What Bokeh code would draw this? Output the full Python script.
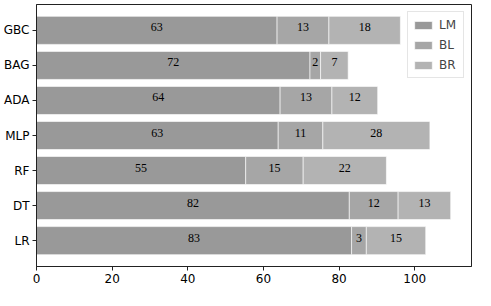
import numpy as np
from bokeh.plotting import figure
from bokeh.models import ColumnDataSource, Range1d, FactorRange, FixedTicker, LabelSet
from bokeh.embed import file_html
from bokeh.resources import INLINE

models = ["LR", "DT", "RF", "MLP", "ADA", "BAG", "GBC"]
lm = [83.3, 82.7, 55.3, 63.9, 64.4, 72.3, 63.6]
bl = [3.9, 12.9, 15.2, 11.8, 13.7, 2.8, 13.7]
br = [15.7, 13.9, 22.0, 28.3, 12.1, 7.3, 18.9]
lm_labels = ["83", "82", "55", "63", "64", "72", "63"]
bl_labels = ["3", "12", "15", "11", "13", "2", "13"]
br_labels = ["15", "13", "22", "28", "12", "7", "18"]
x_ticks = [0, 20, 40, 60, 80, 100]

FONT = "DejaVu Sans"
colors = ["#999999", "#a6a6a6", "#b3b3b3"]

source = ColumnDataSource(dict(model=models, lm=lm, bl=bl, br=br))

p = figure(width=475, height=290, output_backend="svg", toolbar_location=None,
           y_range=FactorRange(factors=models, range_padding=0.068),
           x_range=Range1d(0, 115),
           min_border_left=4, min_border_right=4, min_border_top=4, min_border_bottom=24)

p.hbar_stack(["lm", "bl", "br"], y="model", height=0.8, color=colors,
             line_color="white", line_alpha=0.6, line_width=1,
             source=source, legend_label=["LM", "BL", "BR"])

lm_a = np.array(lm); bl_a = np.array(bl); br_a = np.array(br)
mids = [lm_a / 2, lm_a + bl_a / 2, lm_a + bl_a + br_a / 2]
for mid, labs in zip(mids, [lm_labels, bl_labels, br_labels]):
    ls = ColumnDataSource(dict(x=mid, y=models, t=labs))
    p.add_layout(LabelSet(x="x", y="y", text="t", source=ls,
                          text_align="center", text_baseline="middle",
                          y_offset=3,
                          text_font=FONT, text_font_size="12px", text_color="black"))

p.xgrid.visible = False
p.ygrid.visible = False
p.outline_line_color = "#222222"
p.outline_line_width = 1

for ax in (p.xaxis[0], p.yaxis[0]):
    ax.major_label_text_font = FONT
    ax.major_label_text_font_size = "12px"
    ax.major_label_text_color = "black"
    ax.axis_line_color = "#222222"
    ax.major_tick_line_color = "#222222"
    ax.major_tick_out = 4
    ax.major_tick_in = 0
    ax.minor_tick_out = 0
    ax.minor_tick_in = 0
    ax.major_label_standoff = 3

p.xaxis.ticker = FixedTicker(ticks=x_ticks)

lg = p.legend[0]
lg.location = "top_right"
lg.margin = 7
lg.padding = 4
lg.spacing = 3
lg.glyph_width = 22
lg.glyph_height = 10
lg.label_height = 17
lg.label_standoff = 5
lg.label_text_font = FONT
lg.label_text_font_size = "12px"
lg.border_line_color = "#cccccc"
lg.background_fill_alpha = 0.8

open("out.html", "w").write(file_html(p, INLINE))
